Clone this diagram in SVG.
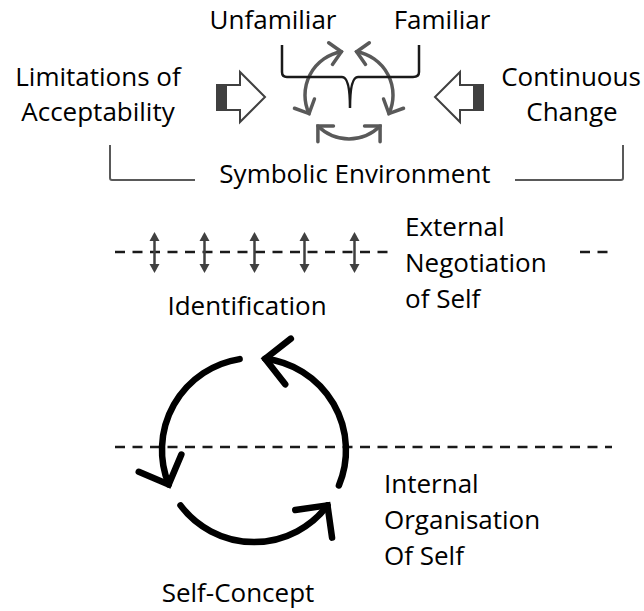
<svg xmlns="http://www.w3.org/2000/svg" width="644" height="611" viewBox="0 0 644 611">
<style>
  .t { font-family: "Open Sans", "Liberation Sans", sans-serif; font-size: 26px; fill: #000; }
  .m { text-anchor: middle; }
  .big { fill: none; stroke: #000; stroke-width: 6.5; stroke-linecap: round; }
  .small { fill: none; stroke: #595959; stroke-width: 3.5; stroke-linecap: round; }
  .brace { fill: none; stroke: #1a1a1a; stroke-width: 2.5; }
  .bracket { fill: none; stroke: #595959; stroke-width: 2; }
  .dash { fill: none; stroke: #1a1a1a; stroke-width: 2.5; stroke-dasharray: 10 7.5; }
  .dbl { stroke: #404040; stroke-width: 2.5; }
  .block { fill: #fff; stroke: #404040; stroke-width: 2; stroke-linejoin: miter; }
  .blockdark { fill: #404040; }
</style>
<defs>
  <marker id="bigHead" markerUnits="userSpaceOnUse" orient="auto" overflow="visible" markerWidth="1" markerHeight="1" refX="0" refY="0">
    <path d="M-23,-23 L0,0 L-23,23" fill="none" stroke="#000" stroke-width="6.5" stroke-linecap="round" stroke-linejoin="miter"/>
  </marker>
  <marker id="smallHead" markerUnits="userSpaceOnUse" orient="auto-start-reverse" overflow="visible" markerWidth="1" markerHeight="1" refX="0" refY="0">
    <path d="M-11,-11 L0,0 L-11,11" fill="none" stroke="#595959" stroke-width="3.5" stroke-linecap="round" stroke-linejoin="miter"/>
  </marker>
  <marker id="tri" markerUnits="userSpaceOnUse" orient="auto-start-reverse" overflow="visible" markerWidth="1" markerHeight="1" refX="0" refY="0">
    <path d="M9,0 L0,-5 L0,5 Z" fill="#404040"/>
  </marker>
</defs>

<g id="symbolic-cycle">
  <path class="small" d="M341.4,51.7 A44,44 0 0 0 309.1,113.6" marker-start="url(#smallHead)" marker-end="url(#smallHead)"/>
  <path class="small" d="M356.6,51.7 A44,44 0 0 1 388.9,113.6" marker-start="url(#smallHead)" marker-end="url(#smallHead)"/>
  <path class="small" d="M317.9,126.1 A44,44 0 0 0 380.1,126.1" marker-start="url(#smallHead)" marker-end="url(#smallHead)"/>
</g>
<g id="brace">
  <path class="brace" d="M282,45 L282,72 Q282,77 287,77 L342,77 Q350,77 350,108 Q350,77 358,77 L413,77 Q419,77 419,72 L419,45"/>
</g>

<g id="unfamiliar"><text class="t m" x="273" y="29">Unfamiliar</text></g>
<g id="familiar"><text class="t m" x="442" y="29">Familiar</text></g>

<g id="limitations">
  <text class="t m" x="98" y="86">Limitations of</text>
  <text class="t m" x="98" y="121">Acceptability</text>
</g>
<g id="continuous-change">
  <text class="t m" x="571" y="86">Continuous</text>
  <text class="t m" x="572" y="121">Change</text>
</g>

<g id="arrow-left">
  <polygon class="block" points="217,85 240,85 240,72 265,97 240,122 240,110 217,110"/>
  <rect class="blockdark" x="217" y="85" width="10" height="25"/>
</g>
<g id="arrow-right">
  <polygon class="block" points="483,85 460,85 460,72 435,97 460,122 460,110 483,110"/>
  <rect class="blockdark" x="473" y="85" width="10" height="25"/>
</g>

<g id="symbolic-environment">
  <path class="bracket" d="M110,145 L110,178 Q110,180 112,180 L195,180"/>
  <path class="bracket" d="M515,180 L621,180 Q623,180 623,178 L623,145"/>
  <text class="t m" x="355" y="183">Symbolic Environment</text>
</g>

<g id="connectors">
  <line class="dash" x1="115" y1="252" x2="393" y2="252"/>
  <line class="dash" x1="580" y1="252" x2="610" y2="252"/>
  <line class="dbl" x1="154.5" y1="241" x2="154.5" y2="264" marker-start="url(#tri)" marker-end="url(#tri)"/>
  <line class="dbl" x1="204.5" y1="241" x2="204.5" y2="264" marker-start="url(#tri)" marker-end="url(#tri)"/>
  <line class="dbl" x1="254.5" y1="241" x2="254.5" y2="264" marker-start="url(#tri)" marker-end="url(#tri)"/>
  <line class="dbl" x1="304.5" y1="241" x2="304.5" y2="264" marker-start="url(#tri)" marker-end="url(#tri)"/>
  <line class="dbl" x1="354.5" y1="241" x2="354.5" y2="264" marker-start="url(#tri)" marker-end="url(#tri)"/>
  <line class="dash" x1="115" y1="447" x2="612" y2="447"/>
</g>

<g id="external">
  <text class="t" x="405" y="236">External</text>
  <text class="t" x="405" y="272">Negotiation</text>
  <text class="t" x="405" y="308">of Self</text>
</g>
<g id="identification"><text class="t m" x="247" y="315">Identification</text></g>

<g id="self-concept-cycle">
  <path class="big" d="M239.6,359.1 A92,92 0 0 0 168.7,484.5" marker-end="url(#bigHead)"/>
  <path class="big" d="M338.9,485.4 A92,92 0 0 0 265.2,358.7" marker-end="url(#bigHead)"/>
  <path class="big" d="M180.5,505.4 A92,92 0 0 0 327.5,505.4" marker-end="url(#bigHead)"/>
</g>

<g id="internal">
  <text class="t" x="384" y="493">Internal</text>
  <text class="t" x="384" y="529">Organisation</text>
  <text class="t" x="384" y="565">Of Self</text>
</g>
<g id="self-concept"><text class="t m" x="238" y="602">Self-Concept</text></g>
</svg>
